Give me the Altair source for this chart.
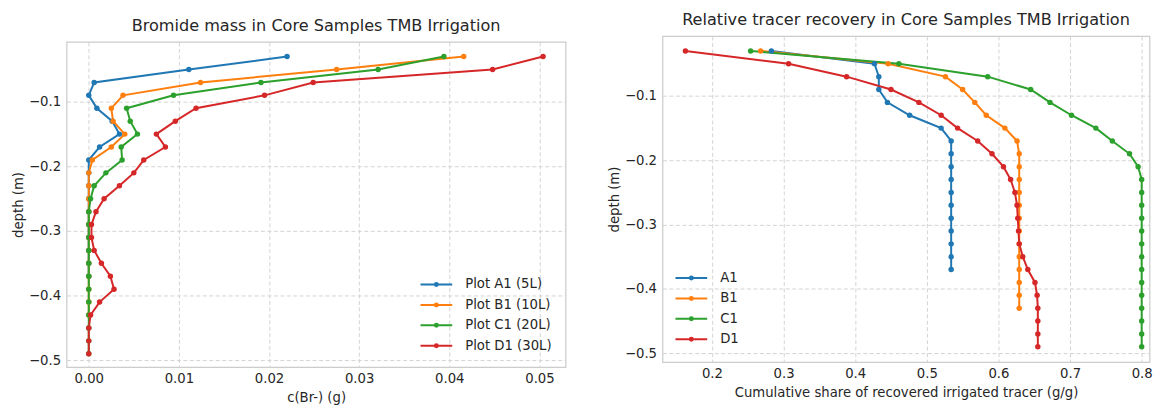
import altair as alt
import pandas as pd

# ---------------- data ----------------
depth = [-0.03, -0.05, -0.07, -0.09, -0.11, -0.13, -0.15, -0.17, -0.19, -0.21,
         -0.23, -0.25, -0.27, -0.29, -0.31, -0.33, -0.35, -0.37, -0.39, -0.41,
         -0.43, -0.45, -0.47, -0.49]

left_names = ["Plot A1 (5L)", "Plot B1 (10L)", "Plot C1 (20L)", "Plot D1 (30L)"]
right_names = ["A1", "B1", "C1", "D1"]

mass_A1 = [0.0220, 0.0111, 0.0006, 0.0000, 0.0009, 0.0026, 0.0034, 0.0012, 0.0000,
           0.0000, 0.0000, 0.0000, 0.0000, 0.0000, 0.0000, 0.0000, 0.0000, 0.0000]
mass_B1 = [0.0416, 0.0275, 0.0124, 0.0038, 0.0025, 0.0027, 0.0040, 0.0025, 0.0004,
           0.0000, 0.0000, 0.0000, 0.0000, 0.0000, 0.0000, 0.0000, 0.0000, 0.0000,
           0.0000, 0.0000, 0.0000]
mass_C1 = [0.0394, 0.0321, 0.0191, 0.0094, 0.0042, 0.0046, 0.0054, 0.0036, 0.0037,
           0.0019, 0.0006, 0.0002, 0.0000, 0.0000, 0.0000, 0.0000, 0.0000, 0.0000,
           0.0000, 0.0000, 0.0000, 0.0000, 0.0000, 0.0000]
mass_D1 = [0.0504, 0.0448, 0.0249, 0.0195, 0.0119, 0.0096, 0.0075, 0.0085, 0.0061,
           0.0050, 0.0034, 0.0017, 0.0008, 0.0003, 0.0003, 0.0006, 0.0014, 0.0024,
           0.0028, 0.0012, 0.0002, 0.0000, 0.0000, 0.0000]

rec_A1 = [0.283, 0.427, 0.433, 0.433, 0.445, 0.476, 0.520, 0.534, 0.534,
          0.534, 0.534, 0.534, 0.534, 0.534, 0.534, 0.534, 0.534, 0.534]
rec_B1 = [0.268, 0.446, 0.526, 0.550, 0.567, 0.583, 0.609, 0.626, 0.629,
          0.629, 0.629, 0.629, 0.629, 0.629, 0.629, 0.629, 0.629, 0.629,
          0.629, 0.629, 0.629]
rec_C1 = [0.254, 0.461, 0.585, 0.645, 0.672, 0.702, 0.736, 0.759, 0.783,
          0.795, 0.800, 0.800, 0.800, 0.800, 0.800, 0.800, 0.800, 0.800,
          0.800, 0.800, 0.800, 0.800, 0.800, 0.800]
rec_D1 = [0.163, 0.307, 0.388, 0.450, 0.489, 0.520, 0.543, 0.571, 0.591,
          0.607, 0.617, 0.623, 0.626, 0.627, 0.628, 0.629, 0.634, 0.641,
          0.651, 0.654, 0.655, 0.655, 0.655, 0.655]

left_ticks = [0.00, 0.01, 0.02, 0.03, 0.04, 0.05]
right_ticks = [0.2, 0.3, 0.4, 0.5, 0.6, 0.7, 0.8]
depth_ticks = [-0.1, -0.2, -0.3, -0.4, -0.5]

colors = ["#1f77b4", "#ff7f0e", "#2ca02c", "#d62728"]

FONT = "DejaVu Sans"
TXT = "#262626"
FS = 13.3
TFS = 16.2

# legend glyph: a line with a dot (dot drawn as two concentric stroked circles)
SYMBOL = ("M-1.52,0H1.52"
          "M0.143,0A0.143,0.143 0 1,1 -0.143,0A0.143,0.143 0 1,1 0.143,0"
          "M0.048,0A0.048,0.048 0 1,1 -0.048,0A0.048,0.048 0 1,1 0.048,0")


def long_table(names, series, key):
    rows = []
    for name, vals in zip(names, series):
        for i, v in enumerate(vals):
            rows.append({"series": name, "depth": depth[i], key: v, "idx": i})
    return pd.DataFrame(rows)


left_df = long_table(left_names, [mass_A1, mass_B1, mass_C1, mass_D1], "mass")
right_df = long_table(right_names, [rec_A1, rec_B1, rec_C1, rec_D1], "rec")


def panel(df, field, xdom, xticks, xfmt, xtitle, ydom, names, title, lx, ly, w, h):
    x = alt.X(f"{field}:Q",
              scale=alt.Scale(domain=xdom, nice=False, zero=False),
              axis=alt.Axis(values=xticks, format=xfmt, title=xtitle))
    y = alt.Y("depth:Q",
              scale=alt.Scale(domain=ydom, nice=False, zero=False),
              axis=alt.Axis(values=depth_ticks, format=".1f", title="depth (m)"))
    cscale = alt.Scale(domain=names, range=colors)
    lines = alt.Chart(df).mark_line(strokeWidth=2).encode(
        x=x, y=y,
        color=alt.Color("series:N", scale=cscale, sort=names,
                        legend=alt.Legend(
                            title=None, orient="none", legendX=lx, legendY=ly,
                            padding=0, symbolType=SYMBOL, symbolSize=441,
                            symbolStrokeWidth=2, rowPadding=2.5,
                            labelOffset=17.5, labelFont=FONT, labelFontSize=FS,
                            labelColor=TXT)),
        order="idx:Q",
    )
    pts = alt.Chart(df).mark_circle(size=30, opacity=1).encode(
        x=x, y=y,
        color=alt.Color("series:N", scale=cscale, sort=names, legend=None),
    )
    return alt.layer(lines, pts).properties(width=w, height=h, title=title)


def spacer(h):
    return alt.Chart(pd.DataFrame({"s": [0]})).mark_point(opacity=0).encode(
        x=alt.value(0), y=alt.value(0)
    ).properties(width=1, height=h, view=alt.ViewBackground(stroke=None))


left = panel(left_df, "mass", [-0.00246, 0.0529], left_ticks, ".2f", "c(Br-) (g)",
             [-0.5105, -0.0074], left_names,
             alt.TitleParams("Bromide mass in Core Samples TMB Irrigation"),
             360.5, 232.5, 502, 327)
right = panel(right_df, "rec", [0.131, 0.811], right_ticks, ".1f",
              "Cumulative share of recovered irrigated tracer (g/g)",
              [-0.5138, -0.0068], right_names,
              alt.TitleParams("Relative tracer recovery in Core Samples TMB Irrigation"),
              17.5, 232, 490, 328)

left_col = alt.vconcat(spacer(8.5), left, spacing=0).resolve_scale(
    color="independent").resolve_legend(color="independent")
right_col = alt.vconcat(spacer(0.5), right, spacing=0).resolve_scale(
    color="independent").resolve_legend(color="independent")

chart = alt.hconcat(left_col, right_col, spacing=40.5).resolve_scale(
    color="independent").resolve_legend(color="independent").properties(
    padding={"left": 11, "top": 4, "right": 8, "bottom": 2}
).configure_view(
    stroke="#cccccc", strokeWidth=1.25
).configure_axis(
    domain=False, ticks=False, labelPadding=6, titlePadding=3,
    labelFont=FONT, labelFontSize=FS, labelColor=TXT,
    titleFont=FONT, titleFontSize=FS, titleColor=TXT, titleFontWeight="normal",
    grid=True, gridColor="#d4d4d4", gridDash=[4, 2.5], gridWidth=1,
).configure_axisX(
    labelPadding=5, titlePadding=5
).configure_title(
    font=FONT, fontSize=TFS, color=TXT, fontWeight="normal", anchor="middle",
    offset=8
)

chart.save("out.html", embed_options={"renderer": "svg", "actions": False})
